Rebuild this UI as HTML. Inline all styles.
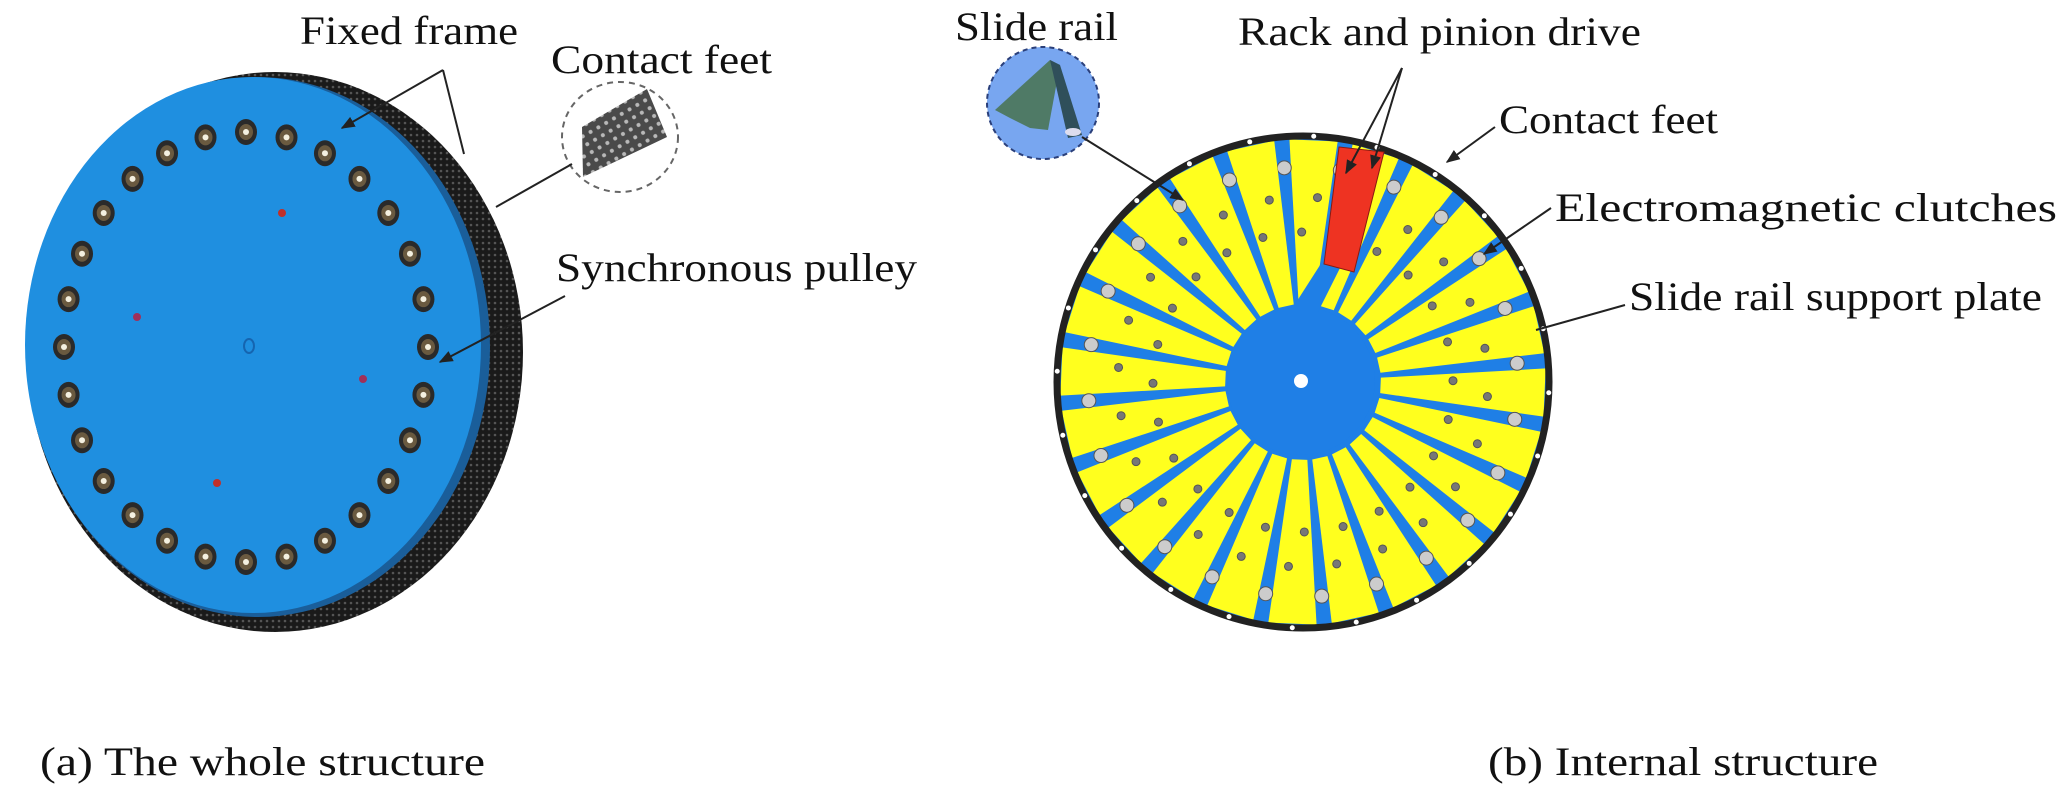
<!DOCTYPE html>
<html><head><meta charset="utf-8"><style>
html,body{margin:0;padding:0;background:#fff;}
svg{display:block;}
text{font-family:"Liberation Serif",serif;fill:#111;}
</style></head><body>
<svg id="s" width="2067" height="795" viewBox="0 0 2067 795" xmlns="http://www.w3.org/2000/svg">
<defs>
<marker id="ar" viewBox="0 0 10 10" refX="9" refY="5" markerWidth="7" markerHeight="7" orient="auto-start-reverse"><path d="M0,1 L10,5 L0,9 z" fill="#222"/></marker>
<pattern id="knurl" width="6" height="6" patternUnits="userSpaceOnUse"><rect width="6" height="6" fill="#1a1a1a"/><circle cx="3" cy="3" r="1.3" fill="#555"/></pattern>
<pattern id="holes" width="9" height="9" patternUnits="userSpaceOnUse" patternTransform="rotate(-30)"><rect width="9" height="9" fill="#4a4a4a"/><circle cx="4.5" cy="4.5" r="2" fill="#b8b8b8"/></pattern>
</defs>
<!-- Left disk -->
<ellipse cx="275" cy="352" rx="248" ry="280" fill="url(#knurl)"/>
<ellipse cx="258" cy="347" rx="232" ry="270" fill="#1a5e9a"/>
<ellipse cx="253" cy="345" rx="228" ry="268" fill="#1f8fe0"/>
<g id="bolts"></g>
<circle cx="282" cy="213" r="4" fill="#c0302a"/>
<circle cx="137" cy="317" r="4" fill="#a0305a"/>
<circle cx="363" cy="379" r="4" fill="#a0305a"/>
<circle cx="217" cy="483" r="4" fill="#c0302a"/>
<ellipse cx="249" cy="346" rx="5" ry="7" fill="none" stroke="#1565b0" stroke-width="2"/>
<!-- left labels -->
<text x="300" y="44" font-size="40" textLength="218" lengthAdjust="spacingAndGlyphs">Fixed frame</text>
<line x1="443" y1="70" x2="342" y2="128" stroke="#222" stroke-width="2" marker-end="url(#ar)"/>
<line x1="443" y1="70" x2="464" y2="154" stroke="#222" stroke-width="2"/>
<text x="551" y="73" font-size="40" textLength="221" lengthAdjust="spacingAndGlyphs">Contact feet</text>
<ellipse cx="620" cy="137" rx="58" ry="55" fill="#fff" stroke="#666" stroke-width="2" stroke-dasharray="6,5"/>
<polygon points="582,127 647,89 667,137 583,177" fill="url(#holes)"/>
<line x1="572" y1="164" x2="496" y2="207" stroke="#222" stroke-width="2"/>
<text x="556" y="281" font-size="40" textLength="361" lengthAdjust="spacingAndGlyphs">Synchronous pulley</text>
<line x1="565" y1="296" x2="440" y2="362" stroke="#222" stroke-width="2" marker-end="url(#ar)"/>
<text x="40" y="775" font-size="40" textLength="445" lengthAdjust="spacingAndGlyphs">(a) The whole structure</text>
<!-- Right disk -->
<circle cx="1303" cy="382" r="246" fill="#1f7fe6"/>
<g id="sectors"></g>
<circle cx="1303" cy="382" r="246" fill="none" stroke="#222" stroke-width="7" id="ring"/>
<g id="notches"></g>
<circle cx="1301" cy="381" r="74" fill="#1f7fe6"/>
<polygon points="1290,312 1318,312 1340,268 1322,262" fill="#1f7fe6"/>
<circle cx="1301" cy="381" r="7" fill="#fff"/>
<polygon points="1339,147 1384,152 1354,272 1324,264" fill="#ee3322" stroke="#8a1a10" stroke-width="1"/>
<!-- slide rail bubble -->
<circle cx="1043" cy="103" r="56" fill="#78a6f0" stroke="#2a3f7a" stroke-width="2" stroke-dasharray="5,4"/>
<polygon points="995,110 1050,60 1060,65 1048,130 1030,128 1010,118" fill="#4f7a66"/>
<polygon points="1050,60 1060,65 1082,135 1068,138" fill="#2f4f5a"/>
<ellipse cx="1073" cy="132" rx="8" ry="4" fill="#dde"/>
<text x="955" y="40" font-size="40" textLength="163" lengthAdjust="spacingAndGlyphs">Slide rail</text>
<line x1="1082" y1="137" x2="1183" y2="200" stroke="#222" stroke-width="2" marker-end="url(#ar)"/>
<text x="1238" y="45" font-size="40" textLength="403" lengthAdjust="spacingAndGlyphs">Rack and pinion drive</text>
<line x1="1402" y1="68" x2="1346" y2="173" stroke="#222" stroke-width="2" marker-end="url(#ar)"/>
<line x1="1402" y1="68" x2="1372" y2="168" stroke="#222" stroke-width="2" marker-end="url(#ar)"/>
<text x="1499" y="133" font-size="40" textLength="219" lengthAdjust="spacingAndGlyphs">Contact feet</text>
<line x1="1495" y1="127" x2="1447" y2="162" stroke="#222" stroke-width="2" marker-end="url(#ar)"/>
<text x="1555" y="221" font-size="40" textLength="502" lengthAdjust="spacingAndGlyphs">Electromagnetic clutches</text>
<line x1="1551" y1="208" x2="1484" y2="254" stroke="#222" stroke-width="2" marker-end="url(#ar)"/>
<text x="1629" y="310" font-size="40" textLength="413" lengthAdjust="spacingAndGlyphs">Slide rail support plate</text>
<line x1="1625" y1="305" x2="1536" y2="330" stroke="#222" stroke-width="2"/>
<text x="1488" y="775" font-size="40" textLength="390" lengthAdjust="spacingAndGlyphs">(b) Internal structure</text>
</svg>
<script>
var NS="http://www.w3.org/2000/svg";
function el(t,a,p){var e=document.createElementNS(NS,t);for(var k in a)e.setAttribute(k,a[k]);p.appendChild(e);return e;}
var b=document.getElementById("bolts");
for(var i=0;i<28;i++){var t=i/28*2*Math.PI;var x=246+182*Math.sin(t),y=347-215*Math.cos(t);
el("ellipse",{cx:x,cy:y,rx:11,ry:13,fill:"#2a2a2a"},b);el("ellipse",{cx:x,cy:y,rx:7,ry:8,fill:"#6a5a40"},b);el("circle",{cx:x,cy:y,r:3,fill:"#f4f0e0"},b);}
var s=document.getElementById("sectors"),n=document.getElementById("notches");
var cx=1303,cy=382;
function pt(r,d){var a=d*Math.PI/180;return [cx+r*Math.sin(a),cy-r*Math.cos(a)];}
for(var k=0;k<24;k++){var a0=-5+15*k+1.8,a1=-5+15*(k+1)-1.8;
var p1=pt(78,a0),p2=pt(243,a0),p3=pt(243,a1),p4=pt(78,a1);
el("polygon",{points:[p1,p2,p3,p4].map(function(p){return p.join(",")}).join(" "),fill:"#ffff1e"},s);
var m=(a0+a1)/2;var d1=pt(150,m-3),d2=pt(185,m+2);
el("circle",{cx:d1[0],cy:d1[1],r:4,fill:"#777",stroke:"#555"},s);
el("circle",{cx:d2[0],cy:d2[1],r:4,fill:"#777",stroke:"#555"},s);
var c=pt(215,-5+15*k);el("circle",{cx:c[0],cy:c[1],r:7,fill:"#ccc",stroke:"#555"},s);
var g=pt(246,-5+15*k+7.5);el("circle",{cx:g[0],cy:g[1],r:2.5,fill:"#fff"},n);}
</script>
</body></html>
